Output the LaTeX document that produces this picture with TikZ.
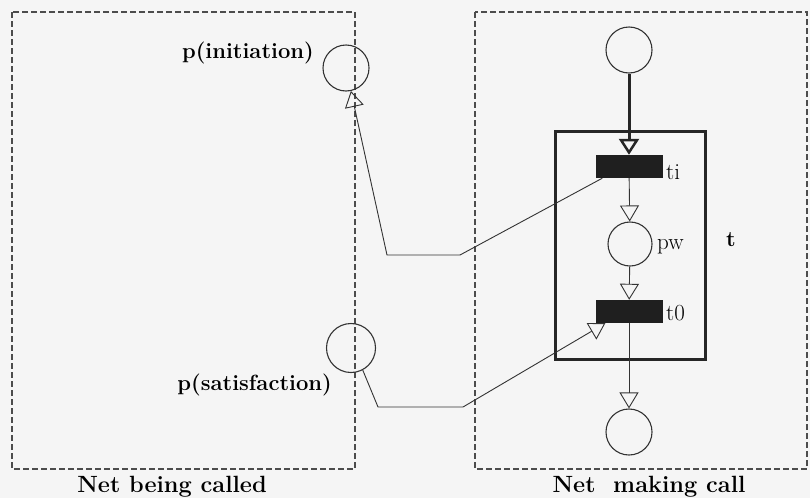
\documentclass[tikz,border=0pt]{standalone}
\usetikzlibrary{arrows.meta}

\tikzset{
  netbox/.style={draw=black!70, line width=1.1pt, dash pattern=on 6pt off 3pt},
  place/.style={circle, draw=black!80, line width=1.1pt, minimum size=46pt, inner sep=0pt},
  trans/.style={rectangle, fill=black!88, draw=none, minimum width=67pt, minimum height=23pt, inner sep=0pt},
  arc/.style={draw=black!80, line width=0.9pt, -{Triangle[open, length=16pt, width=19pt, line width=0.9pt]}},
  thickarc/.style={draw=black!85, line width=3pt, -{Triangle[open, length=16pt, width=20pt, line width=2.5pt]}},
  lbl/.style={font=\fontsize{22}{24}\selectfont\bfseries, inner sep=0pt},
  tlbl/.style={font=\fontsize{23}{25}\selectfont, inner sep=0pt},
  caption/.style={font=\fontsize{23.5}{26}\selectfont\bfseries, inner sep=0pt}
}

\begin{document}
\begin{tikzpicture}[x=1pt, y=-1pt]
  \useasboundingbox (0,0) rectangle (810,498);
  \fill[black!4] (0,0) rectangle (810,498);

  % the two nets
  \draw[netbox] (12,12) rectangle (355,469);
  \draw[netbox] (475,12) rectangle (807,469);

  % places
  \node[place] (pinit) at (346,68) {};
  \node[place, minimum size=49pt] (psat) at (351,348) {};
  \node[place] (top) at (629,50) {};
  \node[place, minimum size=44pt] (pw) at (630,244) {};
  \node[place] (bot) at (629,432) {};

  % substituted transition t
  \node[draw=black!85, line width=3pt, minimum width=150pt, minimum height=228pt, inner sep=0pt] (tbox) at (630,245) {};

  % transitions
  \node[trans] (ti) at (629,166.5) {};
  \node[trans] (to) at (629,311.5) {};

  % labels
  \node[lbl, anchor=base east] (linit) at (314,58) {p(initiation)};
  \node[lbl, anchor=base east] (lsat) at (332,390) {p(satisfaction)};
  \node[tlbl, anchor=base west] (lti) at (666,179) {ti};
  \node[tlbl, anchor=base west] (lpw) at (657,249) {pw};
  \node[tlbl, anchor=base west] (lto) at (666,320) {t0};
  \node[lbl, anchor=base] (lt) at (731,246) {t};
  \node[caption, anchor=base] (c1) at (172,492) {Net being called};
  \node[caption, anchor=base] (c2) at (649,492) {Net~ making call};

  % arcs inside the calling net
  \draw[thickarc] (top) -- (ti);
  \draw[arc] (ti) -- (pw);
  \draw[arc] (pw) -- (to);
  \draw[arc] (to) -- (bot);

  % links between the nets
  \coordinate (a1) at (460,255);
  \coordinate (a2) at (387,255);
  \draw[arc] ([xshift=7pt]ti.south west) -- (a1) -- (a2) -- (pinit.-78);

  \coordinate (b1) at (378,407);
  \coordinate (b2) at (463,407);
  \draw[arc] (psat.-62) -- (b1) -- (b2) -- ([xshift=10pt]to.south west);
\end{tikzpicture}
\end{document}
